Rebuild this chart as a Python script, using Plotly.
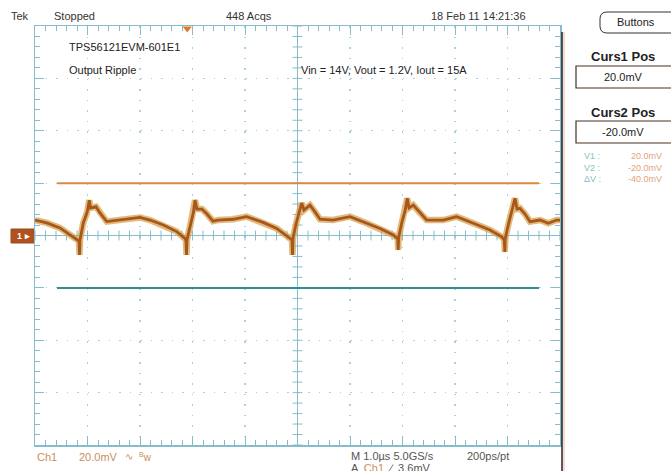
import plotly.graph_objects as go
import numpy as np

time_us = [-5.000, -4.777, -4.524, -4.270, -4.162, -4.152, -4.143, -4.080, -4.004, -3.966,
           -3.943, -3.838, -3.762, -3.634, -3.509, -3.253, -3.000, -2.810, -2.556, -2.301,
           -2.143, -2.124, -2.114, -2.105, -2.038, -1.981, -1.952, -1.914, -1.819, -1.724,
           -1.610, -1.514, -1.229, -0.968, -0.657, -0.396, -0.181, -0.105, -0.095, -0.086,
           -0.029, 0.038, 0.080, 0.124, 0.238, 0.333, 0.429, 0.676, 1.000, 1.318,
           1.571, 1.825, 1.909, 1.918, 1.928, 1.990, 2.048, 2.091, 2.124, 2.206,
           2.314, 2.460, 2.777, 3.032, 3.349, 3.667, 3.890, 3.939, 3.949, 3.958,
           4.029, 4.086, 4.143, 4.181, 4.238, 4.333, 4.429, 4.619, 4.777, 4.937, 5.000]
ripple_mv = [5.9, 4.8, 2.9, -0.5, -2.1, -7.4, -1.7, 4.8, 9.1, 13.5,
             10.5, 11.0, 8.6, 5.3, 5.6, 6.2, 6.9, 5.9, 4.0, 1.5,
             -1.1, -2.1, -7.4, -1.7, 4.4, 9.0, 13.5, 10.1, 10.1, 8.2,
             5.5, 5.9, 6.2, 7.2, 5.0, 2.7, -0.5, -1.7, -7.4, -1.0,
             4.4, 9.4, 12.4, 9.7, 11.6, 9.0, 6.2, 5.9, 7.2, 4.7,
             2.7, 0.2, -1.3, -5.5, -0.6, 5.2, 9.4, 14.2, 10.5, 11.6,
             9.0, 5.9, 5.9, 7.2, 4.7, 2.1, -0.5, -1.7, -6.3, -1.0,
             5.2, 9.7, 14.2, 10.1, 10.4, 8.2, 5.3, 5.9, 4.7, 5.9, 5.9]
cursor1_mv = 20.0
cursor2_mv = -20.0
cursor_t = [-4.58, 4.60]
trigger_t = -2.1

header_texts = ["Tek", "Stopped", "448 Acqs", "18 Feb 11 14:21:36"]
plot_notes = ["TPS56121EVM-601E1", "Output Ripple", "Vin = 14V, Vout = 1.2V, Iout = 15A"]
cursor_labels = ["V1 :", "V2 :", "\u0394V :"]
cursor_values = ["20.0mV", "-20.0mV", "-40.0mV"]

# ---------------- geometry helpers ----------------
W, H = 671, 471
L, R, T, B = 35, 560, 26, 445


def px(x):
    return (x - L) / (R - L)


def py(y):
    return (B - y) / (B - T)


GRID = "#a9d0dc"
FRAME = "#86bccb"
FONT = "Liberation Sans"

fig = go.Figure()

# centre-line tick marks
minor_x = np.round(np.arange(-5, 5.0001, 0.2), 3)
minor_y = np.round(np.arange(-80, 80.0001, 4), 3)
fig.add_trace(go.Scatter(x=minor_x, y=[0] * len(minor_x), mode="markers",
                         marker=dict(symbol="line-ns", size=7, line=dict(width=1, color=FRAME)),
                         hoverinfo="skip", showlegend=False))
fig.add_trace(go.Scatter(x=[0] * len(minor_y), y=minor_y, mode="markers",
                         marker=dict(symbol="line-ew", size=7, line=dict(width=1, color=FRAME)),
                         hoverinfo="skip", showlegend=False))

# cursors
fig.add_trace(go.Scatter(x=cursor_t, y=[cursor1_mv, cursor1_mv], mode="lines",
                         line=dict(color="#d98a3c", width=2), hoverinfo="skip", showlegend=False))
fig.add_trace(go.Scatter(x=cursor_t, y=[cursor2_mv, cursor2_mv], mode="lines",
                         line=dict(color="#2f8f93", width=2), hoverinfo="skip", showlegend=False))

# ripple waveform (glow + core)
fig.add_trace(go.Scatter(x=time_us, y=ripple_mv, mode="lines",
                         line=dict(color="rgba(214,165,80,0.75)", width=6.5),
                         hoverinfo="skip", showlegend=False))
fig.add_trace(go.Scatter(x=time_us, y=ripple_mv, mode="lines",
                         line=dict(color="#a9561c", width=2.8),
                         hoverinfo="skip", showlegend=False))

# trigger position marker
fig.add_trace(go.Scatter(x=[trigger_t], y=[79], mode="markers", cliponaxis=False,
                         marker=dict(symbol="triangle-down", size=8, color="#e0782c"),
                         hoverinfo="skip", showlegend=False))

axis_common = dict(showgrid=True, gridcolor=GRID, griddash="1.5px,9px", gridwidth=1.2,
                   showline=True, linecolor=FRAME, linewidth=1.5, mirror="ticks",
                   ticks="inside", ticklen=9, tickcolor=FRAME, tickwidth=1,
                   showticklabels=False, zeroline=True, zerolinecolor=FRAME, zerolinewidth=1.2)

fig.update_xaxes(range=[-5, 5], dtick=1, tick0=0,
                 minor=dict(ticks="inside", dtick=0.2, ticklen=5, tickcolor=FRAME, showgrid=False),
                 **axis_common)
fig.update_yaxes(range=[-80, 80], dtick=20, tick0=0,
                 minor=dict(ticks="inside", dtick=4, ticklen=5, tickcolor=FRAME, showgrid=False),
                 **axis_common)

ann = []


def text(x, y, s, size=11, color="#333333", anchor="left", bold=False, yanchor="middle", align="left"):
    ann.append(dict(xref="paper", yref="paper", x=px(x), y=py(y), text=("<b>%s</b>" % s) if bold else s,
                    showarrow=False, xanchor=anchor, yanchor=yanchor, align=align,
                    font=dict(family=FONT, size=size, color=color)))


# header
text(9, 16, header_texts[0])
text(52, 16, header_texts[1])
text(249, 16, header_texts[2], anchor="center")
text(478, 16, header_texts[3], anchor="center")

# notes inside graticule
text(67, 47, plot_notes[0], size=11, color="#222222")
text(67, 70, plot_notes[1], size=11, color="#222222")
text(299, 70, plot_notes[2], size=11, color="#222222")

# right panel
text(636, 22, "Buttons", size=11, color="#222222", anchor="center")
text(623, 57, "Curs1 Pos", size=13, color="#222222", anchor="center", bold=True)
text(623, 77, "20.0mV", size=11, color="#222222", anchor="center")
text(623, 112, "Curs2 Pos", size=13, color="#222222", anchor="center", bold=True)
text(623, 132, "-20.0mV", size=11, color="#222222", anchor="center")
text(582, 149, "<br>".join(cursor_labels), size=9, color="#8fbcc6", yanchor="top")
text(664, 149, "<br>".join(cursor_values), size=9, color="#e2a27a", anchor="right",
     yanchor="top", align="right")

# bottom status
text(35, 457, "Ch1", size=11, color="#c98f5e")
text(77, 457, "20.0mV", size=11, color="#c98f5e")
text(123, 456, "\u223f", size=10, color="#c98f5e")
text(137, 457, "<sup>B</sup>w", size=10, color="#c98f5e")
text(349, 456, "M 1.0\u00b5s 5.0GS/s", size=11, color="#555555")
text(465, 456, "200ps/pt", size=11, color="#555555")
text(349, 468, "A  <span style='color:#c98f5e'>Ch1</span>  \u2215  3.6mV", size=11, color="#555555")

# channel marker label
text(23, 236, "1 \u25b8", size=9, color="#ffffff", anchor="center", bold=True)

shapes = []


def rect(x0, y0, x1, y1, color, fill=None, width=1):
    shapes.append(dict(type="rect", xref="paper", yref="paper", x0=px(x0), x1=px(x1),
                       y0=py(y1), y1=py(y0), line=dict(color=color, width=width),
                       fillcolor=fill if fill else "rgba(0,0,0,0)", layer="below" if fill else "above"))


# channel marker box
shapes.append(dict(type="rect", xref="paper", yref="paper", x0=px(11), x1=px(34),
                   y0=py(243), y1=py(229), line=dict(color="#9c4a1c", width=1),
                   fillcolor="#b0521e", layer="below"))
# cursor value boxes
rect(576, 66, 672, 88, "#4a3020", width=1.2)
rect(576, 121, 672, 143, "#4a3020", width=1.2)


# Buttons rounded box
def rr_path(x0, y0, x1, y1, r):
    pts = [("M", (x0 + r, y0)), ("L", (x1 - r, y0)), ("Q", (x1, y0), (x1, y0 + r)),
           ("L", (x1, y1 - r)), ("Q", (x1, y1), (x1 - r, y1)), ("L", (x0 + r, y1)),
           ("Q", (x0, y1), (x0, y1 - r)), ("L", (x0, y0 + r)), ("Q", (x0, y0), (x0 + r, y0))]
    s = ""
    for p in pts:
        s += p[0] + " " + " ".join("%.5f,%.5f" % (px(a), py(b)) for a, b in p[1:]) + " "
    return s + "Z"


shapes.append(dict(type="path", xref="paper", yref="paper", path=rr_path(600, 12, 680, 33, 7),
                   line=dict(color="#333333", width=1)))

# panel divider (dark line right of graticule)
shapes.append(dict(type="line", xref="paper", yref="paper", x0=px(562), x1=px(562),
                   y0=py(471), y1=py(32), line=dict(color="#222222", width=1.5)))
shapes.append(dict(type="line", xref="paper", yref="paper", x0=px(564), x1=px(564),
                   y0=py(471), y1=py(32), line=dict(color="#f0b8a0", width=1)))

fig.update_layout(width=W, height=H, margin=dict(l=L, r=W - R, t=T, b=H - B),
                  paper_bgcolor="white", plot_bgcolor="white",
                  annotations=ann, shapes=shapes, showlegend=False)

fig.write_html("out.html", config={"displayModeBar": False, "staticPlot": True},
               post_script="document.body.style.margin='0';document.body.style.padding='0';")
